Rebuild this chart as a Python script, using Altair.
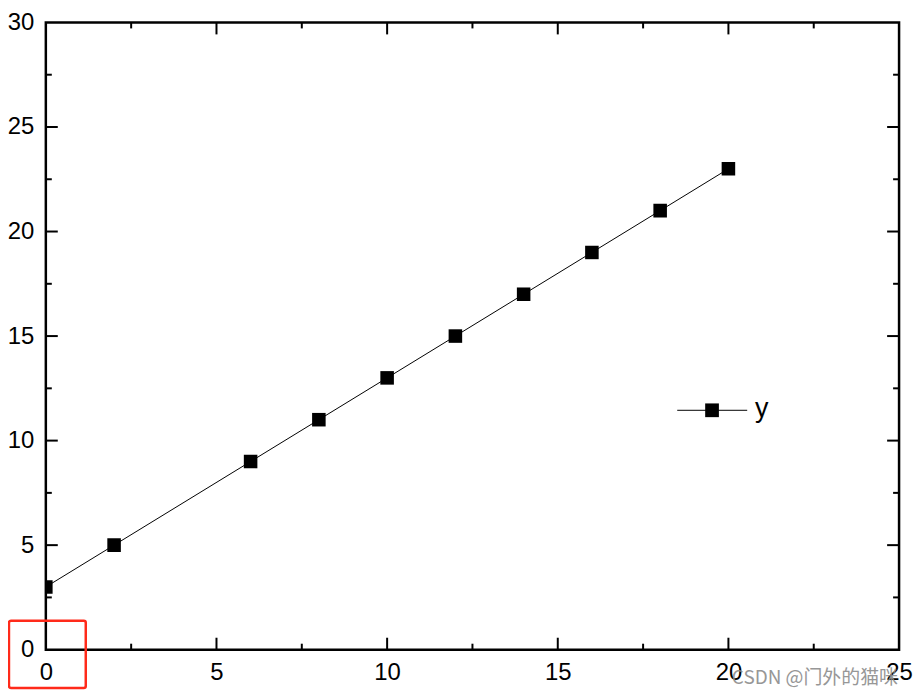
import altair as alt
import pandas as pd

# Data series
x_vals = [0, 2, 6, 8, 10, 12, 14, 16, 18, 20]
y_vals = [3, 5, 9, 11, 13, 15, 17, 19, 21, 23]

# Axis ticks
x_major = [5, 10, 15, 20]
x_minor = [2.5, 7.5, 12.5, 17.5, 22.5]
y_major = [5, 10, 15, 20, 25]
y_minor = [2.5, 7.5, 12.5, 17.5, 22.5, 27.5]
x_labels = [0, 5, 10, 15, 20, 25]
y_labels = [0, 5, 10, 15, 20, 25, 30]

# Annotation positions (data units)
legend_line_x = [18.5, 20.55]
legend_pos_y = 11.45
legend_marker_x = 19.52
legend_text_x = 20.78
legend_label = "y"
box_x = [-1.08, 1.17]
box_y = [-1.83, 1.38]
watermark_x = 20.1
watermark_y = -1.25
watermark_text = "CSDN @门外的猫咪"

FONT = "Liberation Sans"
W, H = 857, 630

xs = alt.Scale(domain=[0, 25], nice=False, zero=False)
ys = alt.Scale(domain=[0, 30], nice=False, zero=False)

df = pd.DataFrame({"x": x_vals, "y": y_vals})

base = alt.Chart(df)

line = base.mark_line(color="black", strokeWidth=1, clip=True).encode(
    x=alt.X("x:Q", scale=xs, axis=alt.Axis(values=x_labels, title=None, ticks=False,
                                           domain=False, grid=False, labelFontSize=24,
                                           labelFont=FONT, labelColor="black",
                                           labelPadding=11, labelFlush=False)),
    y=alt.Y("y:Q", scale=ys, axis=alt.Axis(values=y_labels, title=None, ticks=False,
                                           domain=False, grid=False, labelFontSize=24,
                                           labelFont=FONT, labelColor="black",
                                           labelPadding=12, labelFlush=False)),
)
points = base.mark_point(shape="square", filled=True, color="black", size=185,
                         opacity=1, clip=True).encode(x=alt.X("x:Q", scale=xs),
                                                      y=alt.Y("y:Q", scale=ys))


def tick_layer(vals, axis, fixed, shape, size):
    if axis == "x":
        d = pd.DataFrame({"x": vals, "y": [fixed] * len(vals)})
    else:
        d = pd.DataFrame({"y": vals, "x": [fixed] * len(vals)})
    return alt.Chart(d).mark_point(shape=shape, size=size, filled=False, color="black",
                                   strokeWidth=2, opacity=1).encode(
        x=alt.X("x:Q", scale=xs), y=alt.Y("y:Q", scale=ys))


MAJ, MIN = 576, 144
ticks = [
    tick_layer(x_major, "x", 0, "M0,0L0,-1", MAJ),
    tick_layer(x_minor, "x", 0, "M0,0L0,-1", MIN),
    tick_layer(x_major, "x", 30, "M0,0L0,1", MAJ),
    tick_layer(x_minor, "x", 30, "M0,0L0,1", MIN),
    tick_layer(y_major, "y", 0, "M0,0L1,0", MAJ),
    tick_layer(y_minor, "y", 0, "M0,0L1,0", MIN),
    tick_layer(y_major, "y", 25, "M0,0L-1,0", MAJ),
    tick_layer(y_minor, "y", 25, "M0,0L-1,0", MIN),
]

leg_df = pd.DataFrame({"x": legend_line_x, "y": [legend_pos_y] * 2})
leg_line = alt.Chart(leg_df).mark_line(color="black", strokeWidth=1).encode(
    x=alt.X("x:Q", scale=xs), y=alt.Y("y:Q", scale=ys))
leg_pt = alt.Chart(pd.DataFrame({"x": [legend_marker_x], "y": [legend_pos_y]})).mark_point(
    shape="square", filled=True, color="black", size=190, opacity=1).encode(
    x=alt.X("x:Q", scale=xs), y=alt.Y("y:Q", scale=ys))
leg_txt = alt.Chart(pd.DataFrame({"x": [legend_text_x], "y": [legend_pos_y], "t": [legend_label]})).mark_text(
    align="left", baseline="middle", fontSize=27, font=FONT, color="black", dy=-1).encode(
    x=alt.X("x:Q", scale=xs), y=alt.Y("y:Q", scale=ys), text="t:N")

box = alt.Chart(pd.DataFrame({"x": [box_x[0]], "x2": [box_x[1]], "y": [box_y[0]], "y2": [box_y[1]]})).mark_rect(
    fill=None, fillOpacity=0, stroke="#ff2a1a", strokeWidth=2.5, cornerRadius=2, clip=False).encode(
    x=alt.X("x:Q", scale=xs), x2="x2:Q", y=alt.Y("y:Q", scale=ys), y2="y2:Q")

wm = alt.Chart(pd.DataFrame({"x": [watermark_x], "y": [watermark_y], "t": [watermark_text]})).mark_text(
    align="left", baseline="middle", fontSize=19, font="Noto Sans CJK SC", color="#8c8c8c",
    opacity=0.9, dy=2).encode(x=alt.X("x:Q", scale=xs), y=alt.Y("y:Q", scale=ys), text="t:N")

chart = alt.layer(line, points, *ticks, leg_line, leg_pt, leg_txt, box, wm).properties(
    width=W, height=H,
    autosize=alt.AutoSizeParams(type="none"),
    padding={"left": 38, "top": 13, "right": 15, "bottom": 42},
    background="white",
).configure_view(stroke="black", strokeWidth=2.5)

chart.save("out.html", embed_options={"renderer": "svg", "actions": False})
